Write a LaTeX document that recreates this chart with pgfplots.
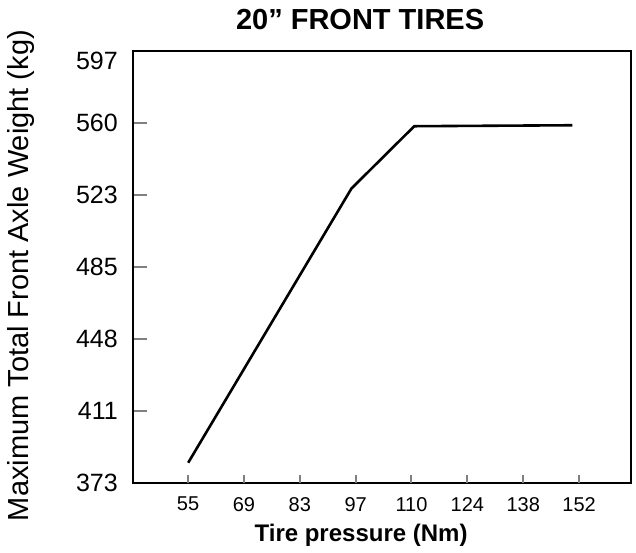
\documentclass[border=0pt]{standalone}
\usepackage{pgfplots}
\pgfplotsset{compat=1.18}
\usepackage{fontspec}
\setmainfont{Liberation Sans}
\begin{document}
\begin{tikzpicture}
\useasboundingbox (-133pt,-69pt) rectangle (503pt,483pt);
\begin{axis}[
  at={(0pt,0pt)}, anchor=south west,
  scale only axis, width=498pt, height=432pt,
  xmin=41.58, xmax=164.5, ymin=373, ymax=597,
  axis line style={line width=2.6pt},
  tick align=inside,
  xtick pos=bottom, ytick pos=left,
  major tick length=14pt,
  xtick=\empty,
  extra x ticks={55.16,68.95,82.74,96.53,110.32,124.11,137.90,151.69},
  extra x tick labels={55,69,83,97,110,124,138,152},
  extra x tick style={major tick length=8pt, tick style={line width=2pt}},
  ytick={373,410.333,447.667,485,522.333,559.667},
  yticklabels={373,411,448,485,523,560},
  extra y ticks={591.8},
  extra y tick labels={597},
  extra y tick style={major tick length=0pt},
  ytick style={line width=2pt},
  /pgf/number format/assume math mode=true,
  xticklabel style={font=\fontsize{20}{24}\selectfont, anchor=north, inner sep=0pt, yshift=-14pt},
  yticklabel style={font=\fontsize{25}{30}\selectfont, anchor=east, inner sep=0pt, xshift=-15pt},
  xlabel={\textbf{Tire pressure (Nm)}},
  xlabel style={font=\fontsize{24}{28}\selectfont, at={(axis description cs:0.458,-0.122)}, anchor=center},
  ylabel={Maximum Total Front Axle Weight (kg)},
  ylabel style={font=\fontsize{29}{34}\selectfont, at={(axis description cs:-0.225,0.48)}, anchor=center},
  title={\textbf{20” FRONT TIRES}},
  title style={font=\fontsize{29}{34}\selectfont, at={(axis description cs:0.456,1.06)}, anchor=center},
  clip=false,
]
\addplot[black, line width=2.6pt, line join=round] coordinates {
  (55.2,383.5) (95.5,525.7) (111.0,558.0) (150.0,558.5)
};
\end{axis}
\end{tikzpicture}
\end{document}
